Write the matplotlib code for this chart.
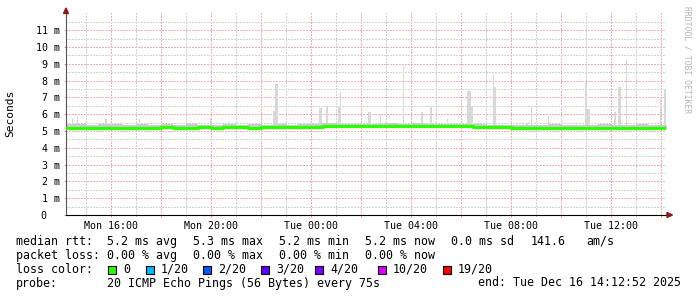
import matplotlib.pyplot as plt
import numpy as np
from matplotlib.patches import Rectangle, Polygon

plt.rcParams['font.family'] = ['DejaVu Sans Mono']

# hours since Mon 00:00, one sample every 30 min
hours = np.arange(14.25, 38.26, 0.5)

median_ms = [5.18, 5.17, 5.19, 5.18, 5.20, 5.19, 5.18, 5.20,
             5.21, 5.19, 5.20, 5.21, 5.20, 5.22, 5.21, 5.20,
             5.21, 5.22, 5.23, 5.25, 5.26, 5.27, 5.27, 5.28,
             5.29, 5.30, 5.30, 5.31, 5.31, 5.31, 5.30, 5.30,
             5.28, 5.26, 5.24, 5.22, 5.20, 5.19, 5.18, 5.18,
             5.19, 5.18, 5.20, 5.19, 5.18, 5.19, 5.20, 5.19,
             5.18]

smoke_high = [5.40, 5.44, 5.38, 5.42, 5.39, 5.36, 5.41, 5.37,
              5.39, 5.36, 5.42, 5.38, 5.35, 5.40, 5.37, 5.39,
              5.36, 5.41, 5.38, 5.43, 5.40, 5.45, 5.42, 5.41,
              5.44, 5.42, 5.47, 5.43, 5.45, 5.41, 5.44, 5.42,
              5.40, 5.39, 5.35, 5.38, 5.36, 5.34, 5.37, 5.39,
              5.35, 5.38, 5.36, 5.40, 5.37, 5.35, 5.39, 5.36,
              5.37]

smoke_low = [5.10, 5.09, 5.11, 5.10, 5.12, 5.11, 5.10, 5.12,
             5.13, 5.11, 5.12, 5.13, 5.12, 5.14, 5.13, 5.12,
             5.13, 5.14, 5.16, 5.18, 5.19, 5.20, 5.19, 5.21,
             5.22, 5.22, 5.23, 5.24, 5.23, 5.24, 5.23, 5.22,
             5.20, 5.17, 5.14, 5.12, 5.11, 5.10, 5.09, 5.10,
             5.11, 5.10, 5.12, 5.11, 5.10, 5.11, 5.12, 5.11,
             5.10]

# outlier pings (start hour, end hour, top in ms)
spike_start = [14.44, 14.64, 15.78, 17.12, 19.08, 19.96, 20.68, 22.50, 22.56,
               22.84, 24.34, 24.62, 25.10, 25.16, 26.28, 26.76, 27.68, 28.42,
               28.78, 29.44, 30.26, 30.42, 31.28, 31.30, 32.62, 32.80, 33.48,
               34.00, 34.98, 35.06, 36.14, 36.30, 36.60, 37.96, 38.14]
spike_end = [14.48, 14.68, 15.86, 17.16, 19.12, 20.00, 20.72, 22.62, 22.68,
             22.88, 24.46, 24.70, 25.22, 25.22, 26.40, 26.82, 27.72, 28.50,
             28.86, 29.48, 30.42, 30.48, 31.32, 31.42, 32.70, 32.84, 33.52,
             34.04, 35.06, 35.18, 36.22, 36.42, 36.64, 38.02, 38.20]
spike_top = [5.8, 5.9, 5.7, 5.7, 5.5, 5.8, 5.6, 6.2, 7.8,
             5.5, 6.35, 6.4, 6.4, 7.3, 6.1, 6.0, 8.85, 6.1,
             6.4, 5.7, 7.4, 6.5, 8.3, 7.6, 5.5, 6.4, 5.9,
             5.8, 7.9, 6.3, 6.1, 7.6, 9.2, 6.9, 7.5]

x_ticks = [16, 20, 24, 28, 32, 36]
x_labels = ['Mon 16:00', 'Mon 20:00', 'Tue 00:00', 'Tue 04:00', 'Tue 08:00', 'Tue 12:00']
y_ticks = list(range(12))
y_labels = ['0'] + ['%d m' % v for v in range(1, 12)]

loss_labels = ['0', '1/20', '2/20', '3/20', '4/20', '10/20', '19/20']
loss_colors = ['#26ff00', '#00b8ff', '#0059ff', '#5e00ff', '#7e00ff', '#dd00ff', '#ff0000']

W, H = 697, 297


def fx(x):
    return x / W


def fy(y):
    return 1 - y / H


def main():
    fig = plt.figure(figsize=(W / 100, H / 100), dpi=100)
    ax = fig.add_axes([fx(66), fy(215), 600 / W, (215 - 13.3) / H])
    ax.set_xlim(14.2144, 38.2144)
    ax.set_ylim(0, 12)

    # grid
    ax.set_xticks(np.arange(16, 39, 2))
    ax.set_xticks(np.arange(15, 39, 1), minor=True)
    ax.set_xticklabels([x_labels[x_ticks.index(t)] if t in x_ticks else ''
                        for t in range(16, 39, 2)])
    ax.set_yticks(y_ticks)
    ax.set_yticklabels(y_labels)
    ax.set_yticks(np.arange(0.5, 12, 1), minor=True)
    dots = (0, (1.5, 1.5))
    ax.grid(which='major', color='#eeb0b0', linestyle=dots, linewidth=0.72,
            antialiased=False)
    ax.grid(which='minor', color='#d2d2d2', linestyle=dots, linewidth=0.72,
            antialiased=False)
    ax.set_axisbelow(True)
    ax.tick_params(axis='both', which='major', length=1.5, width=0.72,
                   color='#e89090', labelsize=7.2, pad=2.6)
    ax.tick_params(axis='both', which='minor', length=1.5, width=0.72, color='#cccccc')
    ax.tick_params(axis='y', which='minor', length=0)
    ax.yaxis.get_major_ticks()[0].set_pad(12.3)

    for s in ['top', 'right']:
        ax.spines[s].set_visible(False)
    ax.spines['left'].set_color('#555555')
    ax.spines['left'].set_linewidth(0.8)
    ax.spines['bottom'].set_color('black')
    ax.spines['bottom'].set_linewidth(0.8)

    # smoke
    widths = np.array(spike_end) - np.array(spike_start)
    ax.bar(spike_start, np.array(spike_top) - 5.15, bottom=5.15, width=widths,
           align='edge', color='#d8d8d8', linewidth=0, zorder=2)
    ax.fill_between(hours, smoke_low, smoke_high, step='mid',
                    color='#cbcbcb', linewidth=0, zorder=3)
    ax.plot(hours, median_ms, drawstyle='steps-mid', color='#26ff00',
            linewidth=2.3, zorder=4)

    # axis arrows
    red = '#8b1a1a'
    fig.patches.append(Polygon([[fx(63.5), fy(13.5)], [fx(68.5), fy(13.5)], [fx(66), fy(8)]],
                               closed=True, color=red, transform=fig.transFigure))
    fig.patches.append(Polygon([[fx(667), fy(212.5)], [fx(667), fy(217.5)], [fx(672.5), fy(215)]],
                               closed=True, color=red, transform=fig.transFigure))

    fig.text(fx(10), fy(113), 'Seconds', rotation=90, va='center', ha='center', fontsize=8.1)
    fig.text(fx(687), fy(60), 'RRDTOOL / TOBI OETIKER', rotation=270, va='center',
             ha='center', fontsize=5.8, color='#b4b4b4')

    # legend
    fs = 8.4
    rows = [
        (241.5, [(16, 'median rtt:'), (107, '5.2 ms avg'), (193, '5.3 ms max'),
                 (279, '5.2 ms min'), (365, '5.2 ms now'), (451, '0.0 ms sd'),
                 (531, '141.6'), (586, 'am/s')]),
        (255.5, [(16, 'packet loss:'), (107, '0.00 % avg'), (193, '0.00 % max'),
                 (279, '0.00 % min'), (365, '0.00 % now')]),
        (283, [(16, 'probe:'), (107, '20 ICMP Echo Pings (56 Bytes) every 75s'),
               (478, 'end: Tue Dec 16 14:12:52 2025')]),
    ]
    for y, items in rows:
        for x, s in items:
            fig.text(fx(x), fy(y), s, va='center', ha='left', fontsize=fs)

    fig.text(fx(16), fy(269.3), 'loss color:', va='center', ha='left', fontsize=fs)
    sq_x = [108, 146, 203, 261, 315, 378, 443]
    for x, lab, col in zip(sq_x, loss_labels, loss_colors):
        fig.patches.append(Rectangle((fx(x), fy(273.5)), 8 / W, 8 / H, facecolor=col,
                                     edgecolor='black', linewidth=0.8,
                                     transform=fig.transFigure))
        fig.text(fx(x + 15), fy(269.3), lab, va='center', ha='left', fontsize=fs)

    fig.savefig('out.png', dpi=100)


if __name__ == '__main__':
    main()
